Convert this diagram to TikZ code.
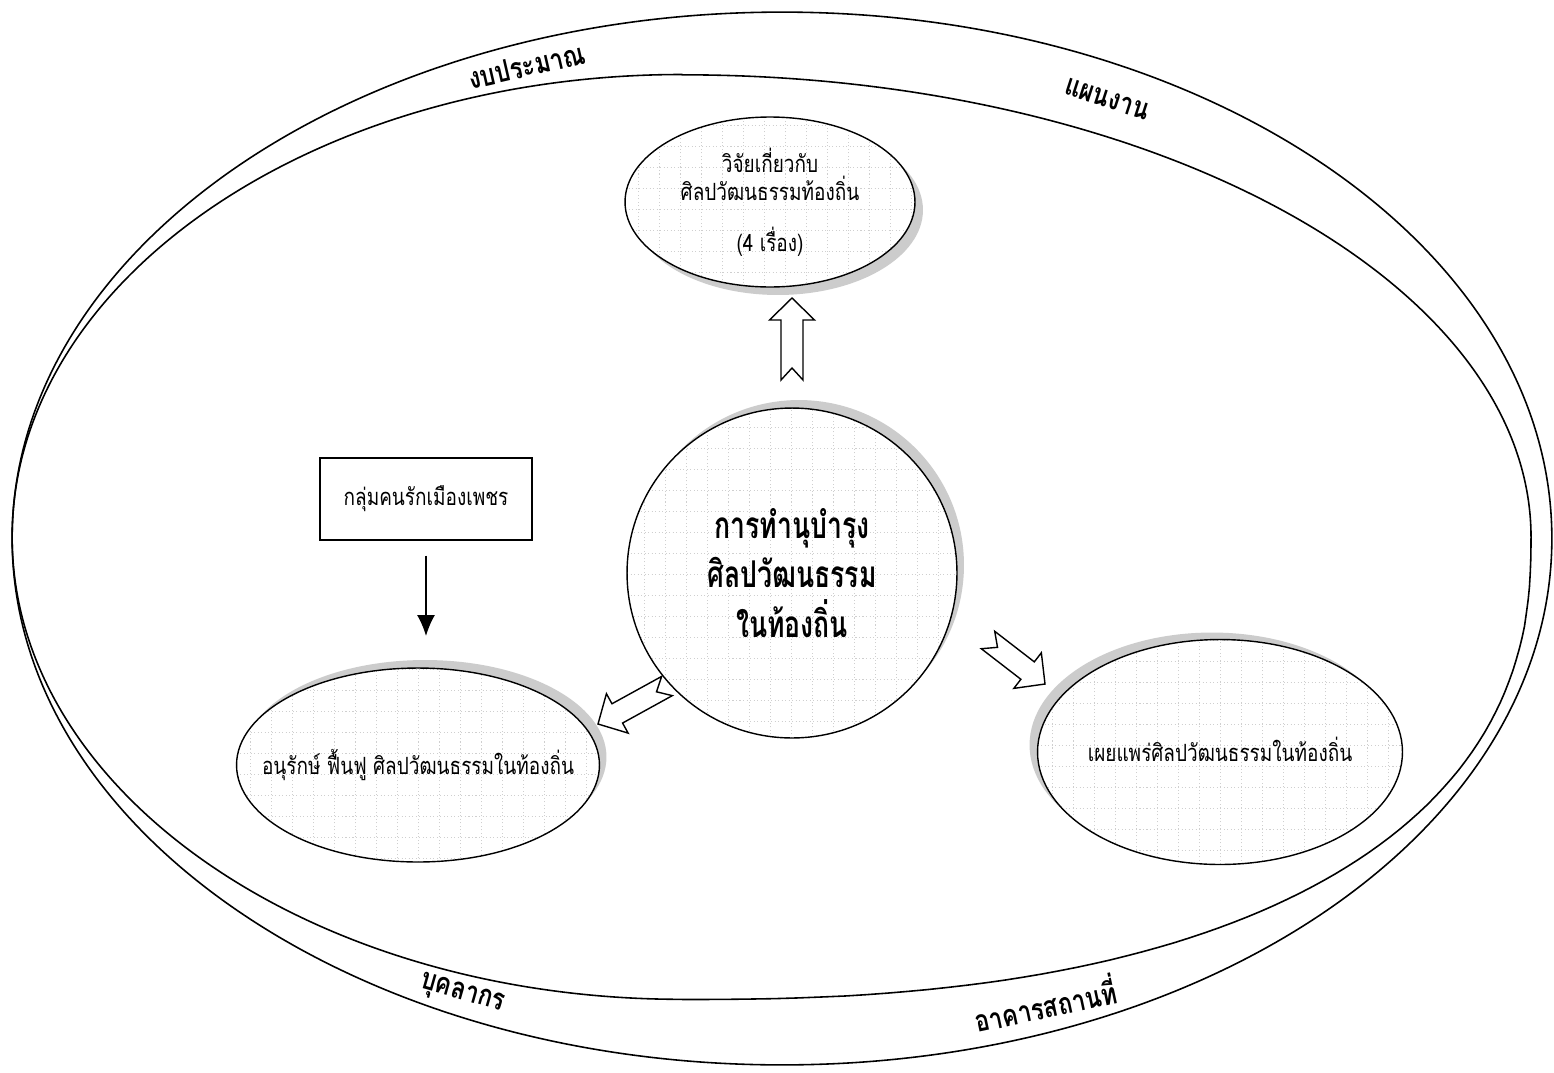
\documentclass[tikz,border=0pt]{standalone}
\usepackage{fontspec}
\newfontfamily\thaifont[Script=Thai,FakeStretch=0.8]{Loma}
\newfontfamily\thaicenter[Script=Thai,FakeStretch=0.72]{Loma}
\usetikzlibrary{calc,shapes.geometric,shadows,arrows.meta}
\newcommand\notcharrow[2]{%
  \coordinate (nh-#1) at ($(#2)!0.44cm!(#1)$);
  \coordinate (nn-#1) at ($(#1)!0.24cm!(#2)$);
  \draw[blockarrow] ($(#1)!0.22cm!90:(#2)$) -- ($(nh-#1)!0.22cm!90:(#2)$)
    -- ($(nh-#1)!0.45cm!90:(#2)$) -- (#2) -- ($(nh-#1)!0.45cm!-90:(#2)$)
    -- ($(nh-#1)!0.22cm!-90:(#2)$) -- ($(#1)!0.22cm!-90:(#2)$) -- (nn-#1) -- cycle;
}
\begin{document}
\begin{tikzpicture}[x=0.02cm,y=-0.02cm,
  ringline/.style={draw, line width=0.9pt},
  ring/.style={ringline, ellipse, inner sep=0pt},
  ringlabel/.style={font=\thaifont\bfseries\fontsize{17}{20}\selectfont, inner sep=0pt},
  gridfill/.style={path picture={\draw[gray!38, dash pattern=on 0.6pt off 1.4pt, line width=0.5pt, step=0.42cm]
      (path picture bounding box.south west) grid (path picture bounding box.north east);}},
  bubble/.style={draw, ellipse, line width=0.8pt, fill=white, inner sep=0pt, align=center,
      font=\thaifont\fontsize{13.5}{16}\selectfont, gridfill},
  shadowlr/.style={drop shadow={shadow xshift=0.16cm, shadow yshift=-0.16cm, fill=gray!40, opacity=1}},
  shadowur/.style={drop shadow={shadow xshift=0.14cm, shadow yshift=0.16cm, fill=gray!40, opacity=1}},
  shadowul/.style={drop shadow={shadow xshift=-0.16cm, shadow yshift=0.14cm, fill=gray!40, opacity=1}},
  blockarrow/.style={draw, line width=0.8pt, fill=white, line join=miter},
  thinarrow/.style={draw, line width=0.8pt, -{Latex[length=0.42cm, width=0.36cm]}},
  plainbox/.style={draw, line width=0.8pt, rectangle, inner sep=0pt, font=\thaifont\fontsize{13.5}{16}\selectfont}
]
\useasboundingbox (0,0) rectangle (1554,1072);
\fill[white] (0,0) rectangle (1554,1072);

% outer rings
\node[ring, minimum width=30.8cm, minimum height=21.06cm] (ringA) at (782,538.5) {};
\draw[ringline] (682,74.5) arc[start angle=90, end angle=270, x radius=13.4cm, y radius=9.25cm]
  -- plot[domain=0:90, samples=70, variable=\t]
     ({682+849*(max(sin(\t),0.0001))^(0.8333)}, {537+462.5*(max(cos(\t),0.0001))^(0.8333)})
  arc[start angle=0, end angle=90, x radius=16.98cm, y radius=9.25cm] -- cycle;

\node[ringlabel, rotate=13] (lbudget) at (527,66) {งบประมาณ};
\node[ringlabel, rotate=-18] (lplan) at (1107,99) {แผนงาน};
\node[ringlabel, rotate=-16] (lstaff) at (462,995) {บุคลากร};
\node[ringlabel, rotate=12] (lbuild) at (1045,1003) {อาคารสถานที่};

% inner bubbles
\node[bubble, shadowlr, minimum width=5.8cm, minimum height=3.4cm] (research) at (770,202)
  {วิจัยเกี่ยวกับ\\ศิลปวัฒนธรรมท้องถิ่น\\[13pt](4 เรื่อง)};
\node[draw, circle, line width=0.8pt, fill=white, inner sep=0pt, minimum size=6.6cm, shadowur,
  gridfill, align=center, font=\thaicenter\bfseries\fontsize{21}{28}\selectfont] (center) at (792,573)
  {การทำนุบำรุง\\ศิลปวัฒนธรรม\\ในท้องถิ่น};
\node[bubble, shadowur, minimum width=7.26cm, minimum height=3.88cm] (conserve) at (418,765)
  {\makebox[0pt][c]{อนุรักษ์ ฟื้นฟู ศิลปวัฒนธรรมในท้องถิ่น}};
\node[bubble, shadowul, minimum width=7.3cm, minimum height=4.5cm] (spread) at (1220,752)
  {\makebox[0pt][c]{\raisebox{0.1cm}{เผยแพร่ศิลปวัฒนธรรมในท้องถิ่น}}};

% box and arrow
\node[plainbox, minimum width=4.24cm, minimum height=1.64cm] (group) at (426,499)
  {\raisebox{0.12cm}{กลุ่มคนรักเมืองเพชร}};
\coordinate (gtip) at (426,636);
\draw[thinarrow, shorten <=0.3cm] (group.south) -- (gtip);

% block arrows
\coordinate (upT) at (792,380);
\coordinate (upH) at (792,298);
\coordinate (lfT) at (667,686);
\coordinate (lfH) at (598,724);
\coordinate (rtT) at (988,640);
\coordinate (rtH) at (1045,684);
\notcharrow{upT}{upH}
\notcharrow{lfT}{lfH}
\notcharrow{rtT}{rtH}
\end{tikzpicture}
\end{document}
